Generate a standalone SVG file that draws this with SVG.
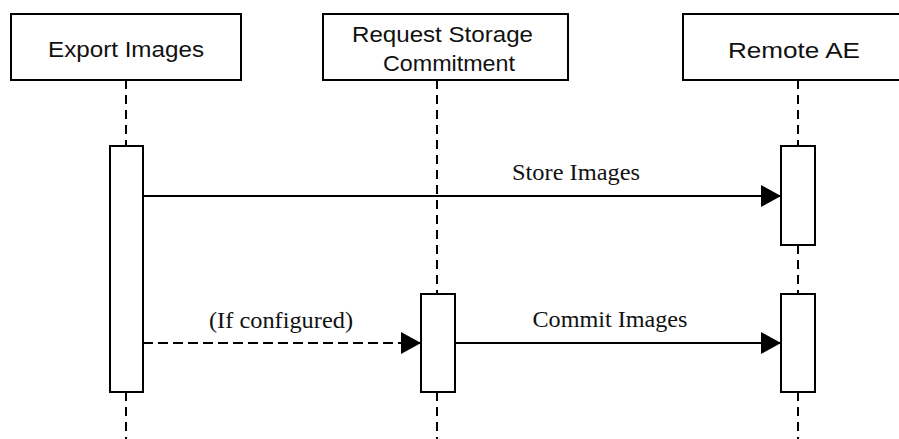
<svg xmlns="http://www.w3.org/2000/svg" width="899" height="439" viewBox="0 0 899 439">
<style>
.box{fill:#fff;stroke:#000;stroke-width:2}
.life{stroke:#000;stroke-width:2;stroke-dasharray:9 6;fill:none}
.msg{stroke:#000;stroke-width:2.2;fill:none}
.dash{stroke-dasharray:10 5}
.hd{font-family:"Liberation Sans",Arial,sans-serif;font-size:22.5px;fill:#111;text-anchor:middle}
.lbl{font-family:"Liberation Serif","Times New Roman",serif;font-size:23.5px;fill:#111;text-anchor:middle}
</style>
<defs>
<marker id="arr" markerUnits="userSpaceOnUse" markerWidth="22" markerHeight="24" refX="20" refY="11" orient="auto">
<path d="M0,0 L20,11 L0,22 Z" fill="#000"/>
</marker>
</defs>
<rect width="899" height="439" fill="#fff"/>
<g id="lifelines">
<line class="life" x1="126" y1="80" x2="126" y2="146"/>
<line class="life" x1="126" y1="392" x2="126" y2="439"/>
<line class="life" x1="437" y1="80" x2="437" y2="294"/>
<line class="life" x1="437" y1="392" x2="437" y2="439"/>
<line class="life" x1="798" y1="80" x2="798" y2="146"/>
<line class="life" x1="798" y1="245" x2="798" y2="294"/>
<line class="life" x1="798" y1="392" x2="798" y2="439"/>
</g>
<g id="export-images">
<rect class="box" x="11" y="14" width="230" height="66"/>
<text class="hd" x="126" y="57" textLength="156" lengthAdjust="spacingAndGlyphs">Export Images</text>
<rect class="box" x="110" y="146" width="33" height="246"/>
</g>
<g id="request-storage-commitment">
<rect class="box" x="323" y="14" width="245" height="66"/>
<text class="hd" x="442.5" y="42" textLength="181" lengthAdjust="spacingAndGlyphs">Request Storage</text>
<text class="hd" x="449" y="71" textLength="132" lengthAdjust="spacingAndGlyphs">Commitment</text>
<rect class="box" x="421" y="294" width="34" height="98"/>
</g>
<g id="remote-ae">
<rect class="box" x="683" y="14" width="230" height="66"/>
<text class="hd" x="794" y="58" textLength="132" lengthAdjust="spacingAndGlyphs">Remote AE</text>
<rect class="box" x="781" y="146" width="34" height="99"/>
<rect class="box" x="781" y="294" width="34" height="98"/>
</g>
<g id="connectors">
<line class="msg" x1="143" y1="196" x2="781" y2="196" marker-end="url(#arr)"/>
<text class="lbl" x="576" y="180" textLength="128" lengthAdjust="spacingAndGlyphs">Store Images</text>
<line class="msg dash" x1="143" y1="343" x2="421" y2="343" marker-end="url(#arr)"/>
<text class="lbl" x="281" y="328" textLength="144" lengthAdjust="spacingAndGlyphs">(If configured)</text>
<line class="msg" x1="455" y1="343" x2="781" y2="343" marker-end="url(#arr)"/>
<text class="lbl" x="610" y="327" textLength="155" lengthAdjust="spacingAndGlyphs">Commit Images</text>
</g>
</svg>
